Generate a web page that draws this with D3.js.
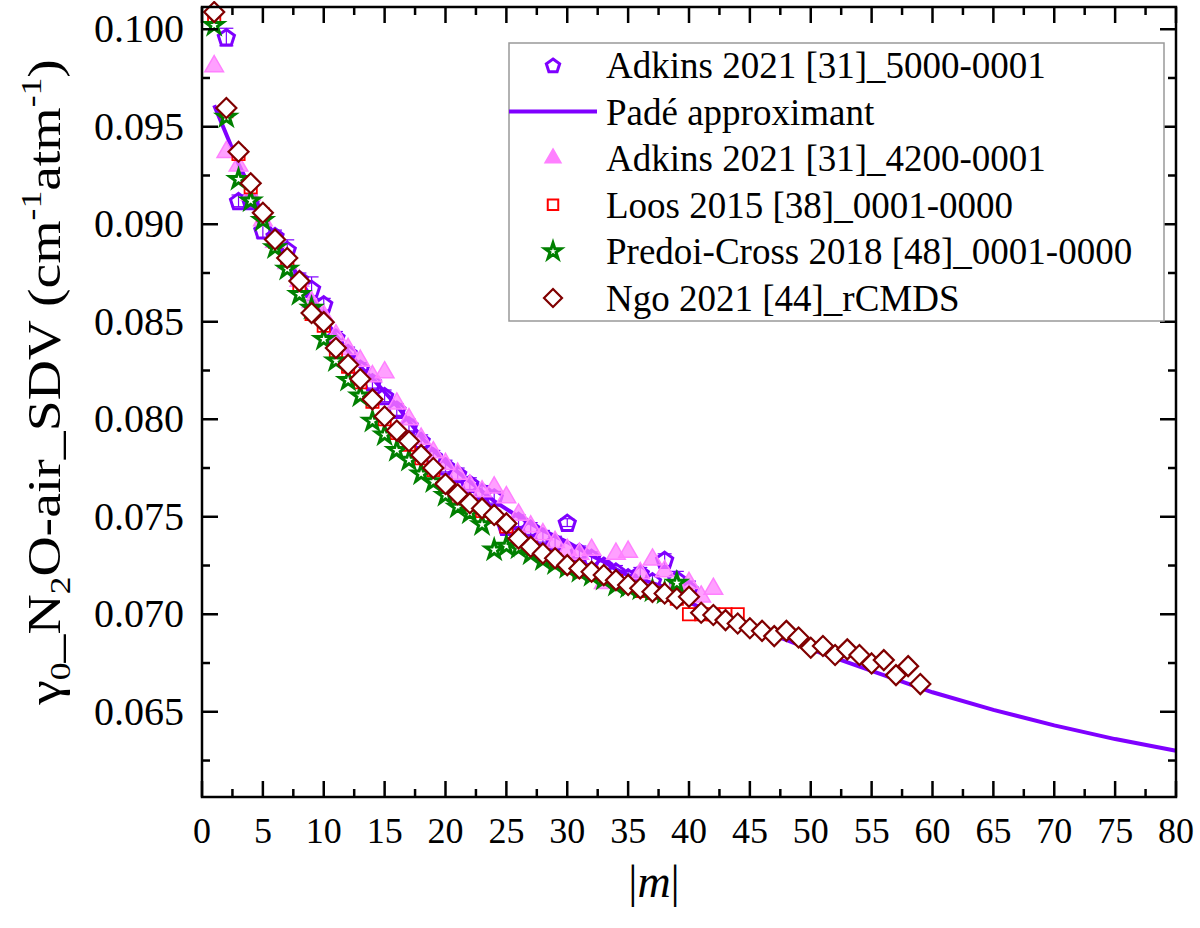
<!DOCTYPE html>
<html><head><meta charset="utf-8">
<script src="https://cdn.jsdelivr.net/npm/d3@7"></script>
<style>body{margin:0;background:#fff} text{font-family:"Liberation Serif","Times New Roman",serif;fill:#000}</style>
</head><body>
<svg id="c" width="1200" height="928"></svg>
<script>
// ---- data ----
const xTicks = [0,5,10,15,20,25,30,35,40,45,50,55,60,65,70,75,80];
const yTicks = [0.065,0.070,0.075,0.080,0.085,0.090,0.095,0.100];

const adk5000M = [2,3,4,5,6,7,8,9,10,11,12,13,14,15,16,17,18,19,20,21,22,23,24,25,26,27,28,29,30,31,32,33,34,35,36,37,38,39,40];
const adk5000V = [0.0996,0.0912,0.0912,0.0897,0.0894,0.0887,0.0872,0.0867,0.0859,0.0842,0.0834,0.0826,0.0819,0.0812,0.0805,0.0797,0.0789,0.0781,0.0776,0.0772,0.0767,0.0763,0.0760,0.0745,0.0748,0.0744,0.0740,0.0737,0.0747,0.0732,0.0729,0.0725,0.0722,0.0719,0.0721,0.0717,0.0728,0.0718,0.0713];
const adk5000E = [0.00045,0.0003,0.0003,0.0004,0.0003,0.0005,0.0003,0.0006,0.0003,0.0003,0.0003,0.0003,0.0003,0.0003,0.0003,0.0003,0.0003,0.0003,0.0003,0.0003,0.0003,0.0003,0.0003,0.0003,0.0003,0.0003,0.0003,0.0003,0.0002,0.0003,0.0003,0.0003,0.0003,0.0003,0.0003,0.0003,0.0003,0.0004,0.0004];

const padeM = [1,2,3,4,5,6,7,8,9,10,11,12,13,14,15,16,17,18,19,20,22,24,26,28,30,32,33,34,35,36,38,40,42,45,50,55,60,65,70,75,80];
const padeV = [0.0961,0.0946,0.0931,0.0918,0.0905,0.0893,0.0883,0.0872,0.0862,0.0852,0.0843,0.0835,0.0827,0.0821,0.0814,0.0807,0.0799,0.0791,0.0784,0.0778,0.0768,0.0758,0.0750,0.0743,0.0737,0.0730,0.0727,0.0723,0.0720,0.0718,0.0714,0.0706,0.0701,0.0694,0.0682,0.0671,0.0660,0.0651,0.0643,0.0636,0.0630];

const adk4200M = [1,2,3,4,5,6,7,8,9,10,11,12,13,14,15,16,17,18,19,20,21,22,23,24,25,26,27,28,29,30,31,32,33,34,35,36,37,38,39,40,41,42];
const adk4200V = [0.0981,0.0937,0.0930,0.0915,0.0902,0.0891,0.0880,0.0871,0.0860,0.0853,0.0843,0.0836,0.0830,0.0822,0.0824,0.0808,0.0800,0.0790,0.0783,0.0777,0.0772,0.0766,0.0763,0.0765,0.0760,0.0751,0.0745,0.0741,0.0737,0.0733,0.0731,0.0733,0.0716,0.0731,0.0732,0.0721,0.0728,0.0722,0.0715,0.0716,0.0709,0.0713];

const loosM = [1,2,3,4,5,6,7,8,9,10,11,12,13,14,15,16,17,18,19,20,21,22,23,24,25,26,27,28,29,30,31,32,33,34,35,36,37,38,39,40,41,42,43,44];
const loosV = [0.1006,0.0958,0.0936,0.0919,0.0905,0.0891,0.0881,0.0869,0.0854,0.0848,0.0835,0.0827,0.0819,0.0809,0.0800,0.0793,0.0787,0.0780,0.0774,0.0766,0.0760,0.0756,0.0753,0.0750,0.0745,0.0738,0.0734,0.0730,0.0728,0.0724,0.0722,0.0721,0.0719,0.0717,0.0714,0.0712,0.0711,0.0710,0.0708,0.0700,0.0700,0.0700,0.0700,0.0700];

const predM = [1,2,3,4,5,6,7,8,9,10,11,12,13,14,15,16,17,18,19,20,21,22,23,24,25,26,27,28,29,30,31,32,33,34,35,36,37,38,39];
const predV = [0.1002,0.0955,0.0923,0.0912,0.0902,0.0888,0.0877,0.0864,0.0857,0.0841,0.0830,0.0820,0.0812,0.0799,0.0792,0.0784,0.0779,0.0772,0.0768,0.0761,0.0755,0.0752,0.0746,0.0733,0.0735,0.0734,0.0731,0.0728,0.0726,0.0724,0.0722,0.0720,0.0718,0.0715,0.0714,0.0713,0.0712,0.0711,0.0716];

const ngoM = [1,2,3,4,5,6,7,8,9,10,11,12,13,14,15,16,17,18,19,20,21,22,23,24,25,26,27,28,29,30,31,32,33,34,35,36,37,38,39,40,41,42,43,44,45,46,47,48,49,50,51,52,53,54,55,56,57,58,59];
const ngoV = [0.10088,0.09596,0.09372,0.09210,0.09059,0.08922,0.08827,0.08709,0.08545,0.08498,0.08365,0.08280,0.08206,0.08102,0.08014,0.07942,0.07887,0.07816,0.07750,0.07668,0.07615,0.07569,0.07543,0.07509,0.07466,0.07389,0.07346,0.07312,0.07287,0.07252,0.07235,0.07218,0.07201,0.07175,0.07150,0.07133,0.07115,0.07107,0.07081,0.07090,0.07008,0.06996,0.06970,0.06953,0.06928,0.06915,0.06888,0.06915,0.06881,0.06828,0.06837,0.06791,0.06820,0.06791,0.06748,0.06765,0.06688,0.06734,0.06642];

const legendLabels = ["Adkins 2021 [31]_5000-0001","Padé approximant","Adkins 2021 [31]_4200-0001","Loos 2015 [38]_0001-0000","Predoi-Cross 2018 [48]_0001-0000","Ngo 2021 [44]_rCMDS"];

// ---- layout ----
const L = 202, R = 1176, T = 7, B = 797;
const svg = d3.select("#c");
const x = d3.scaleLinear().domain([0,80]).range([L,R]);
const y = d3.scaleLinear().domain([0.06063,0.10114]).range([B,T]);

const C_PURPLE = "#7f00ff", C_PINK = "#ff80ff", C_RED = "#ff0000", C_GREEN = "#008000", C_MAROON = "#800000";

svg.append("defs").append("clipPath").attr("id","clip").append("rect")
  .attr("x",L).attr("y",T-6).attr("width",R-L+4).attr("height",B-T+6);
const plot = svg.append("g").attr("clip-path","url(#clip)");

function pentagon(r){ let p=[]; for(let i=0;i<5;i++){const a=-Math.PI/2+i*2*Math.PI/5; p.push([r*Math.cos(a), r*Math.sin(a)]);} return "M"+p.map(d=>d.join(",")).join("L")+"Z"; }
function diamond(r){ return `M0,${-r}L${r},0L0,${r}L${-r},0Z`; }
const triPath = d3.symbol().type(d3.symbolTriangle).size(150)();
const sqPath = d3.symbol().type(d3.symbolSquare).size(150)();
const starPath = d3.symbol().type(d3.symbolStar).size(95)();

// Adkins 5000 (pentagon) with error bars
const g5 = plot.append("g");
adk5000M.forEach((m,i)=>{
  const cx=x(m), v=adk5000V[i], e=adk5000E[i];
  g5.append("line").attr("x1",cx).attr("x2",cx).attr("y1",y(v-e)).attr("y2",y(v+e)).attr("stroke",C_PURPLE).attr("stroke-width",1.2);
  [v-e,v+e].forEach(t=>g5.append("line").attr("x1",cx-7).attr("x2",cx+7).attr("y1",y(t)).attr("y2",y(t)).attr("stroke",C_PURPLE).attr("stroke-width",1.2));
  g5.append("path").attr("d",pentagon(8.5)).attr("transform",`translate(${cx},${y(v)+1})`)
    .attr("fill","none").attr("stroke",C_PURPLE).attr("stroke-width",3);
});

// Padé line
plot.append("path").datum(padeM.map((m,i)=>[m,padeV[i]]))
  .attr("d",d3.line().x(d=>x(d[0])).y(d=>y(d[1])))
  .attr("fill","none").attr("stroke",C_PURPLE).attr("stroke-width",4);

// Adkins 4200 (triangle)
plot.append("g").selectAll("path").data(adk4200M).join("path")
  .attr("d",triPath).attr("transform",(m,i)=>`translate(${x(m)},${y(adk4200V[i])})`)
  .attr("fill",C_PINK).attr("fill-opacity",0.75).attr("stroke",C_PINK).attr("stroke-width",1.5);

// Loos (square)
plot.append("g").selectAll("path").data(loosM).join("path")
  .attr("d",sqPath).attr("transform",(m,i)=>`translate(${x(m)},${y(loosV[i])})`)
  .attr("fill","#fff").attr("stroke",C_RED).attr("stroke-width",1.8);

// Predoi-Cross (star)
plot.append("g").selectAll("path").data(predM).join("path")
  .attr("d",starPath).attr("transform",(m,i)=>`translate(${x(m)},${y(predV[i])})`)
  .attr("fill","#fff").attr("stroke",C_GREEN).attr("stroke-width",3);

// Ngo (diamond)
plot.append("g").selectAll("path").data(ngoM).join("path")
  .attr("d",diamond(10)).attr("transform",(m,i)=>`translate(${x(m)},${y(ngoV[i])})`)
  .attr("fill","#fff").attr("stroke",C_MAROON).attr("stroke-width",2.2);

// ---- frame & ticks ----
const ax = svg.append("g");
ax.append("rect").attr("x",L).attr("y",T).attr("width",R-L).attr("height",B-T)
  .attr("fill","none").attr("stroke","#000").attr("stroke-width",2.5);
d3.range(0,80.01,2.5).forEach(v=>{
  const len = xTicks.includes(v)?16:8;
  ax.append("line").attr("x1",x(v)).attr("x2",x(v)).attr("y1",B).attr("y2",B-len).attr("stroke","#000").attr("stroke-width",2.5);
  ax.append("line").attr("x1",x(v)).attr("x2",x(v)).attr("y1",T).attr("y2",T+len).attr("stroke","#000").attr("stroke-width",2.5);
});
d3.range(0.0625,0.1011,0.0025).forEach(v=>{
  const len = yTicks.some(t=>Math.abs(t-v)<1e-6)?16:8;
  ax.append("line").attr("x1",L).attr("x2",L+len).attr("y1",y(v)).attr("y2",y(v)).attr("stroke","#000").attr("stroke-width",2.5);
  ax.append("line").attr("x1",R).attr("x2",R-len).attr("y1",y(v)).attr("y2",y(v)).attr("stroke","#000").attr("stroke-width",2.5);
});
ax.selectAll("text.xt").data(xTicks).join("text").attr("class","xt")
  .attr("x",d=>x(d)).attr("y",843).attr("text-anchor","middle").attr("font-size",36).text(d=>d);
ax.selectAll("text.yt").data(yTicks).join("text").attr("class","yt")
  .attr("x",184).attr("y",d=>y(d)+13).attr("text-anchor","end").attr("font-size",40).text(d=>d.toFixed(3));

// axis titles
const xt = svg.append("text").attr("x",654).attr("y",897).attr("text-anchor","middle").attr("font-size",46);
xt.append("tspan").text("|");
xt.append("tspan").attr("font-style","italic").text("m");
xt.append("tspan").text("|");

const yt = svg.append("text").attr("text-anchor","middle").attr("font-size",47);
yt.append("tspan").text("γ");
yt.append("tspan").attr("font-size",30).attr("dy",10).text("0");
yt.append("tspan").attr("dy",-10).text("_N");
yt.append("tspan").attr("font-size",30).attr("dy",10).text("2");
yt.append("tspan").attr("dy",-10).text("O-air_SDV (cm");
yt.append("tspan").attr("font-size",30).attr("dy",-19).text("-1");
yt.append("tspan").attr("dy",19).text("atm");
yt.append("tspan").attr("font-size",30).attr("dy",-19).text("-1");
yt.append("tspan").attr("dy",19).text(")");
const ytw = yt.node().getBBox().width;
yt.attr("transform",`translate(60,382) rotate(-90) scale(${647/ytw},1)`);

// ---- legend ----
const lg = svg.append("g");
lg.append("rect").attr("x",509).attr("y",43).attr("width",655).attr("height",278)
  .attr("fill","#fff").attr("stroke","#999").attr("stroke-width",1.5);
legendLabels.forEach((lab,i)=>{
  const cy = 65 + i*46.6, sx = 553;
  if(i===0) lg.append("path").attr("d",pentagon(7)).attr("transform",`translate(${sx},${cy+1})`).attr("fill","none").attr("stroke",C_PURPLE).attr("stroke-width",3);
  if(i===1) lg.append("line").attr("x1",509).attr("x2",597).attr("y1",cy).attr("y2",cy).attr("stroke",C_PURPLE).attr("stroke-width",4);
  if(i===2) lg.append("path").attr("d",d3.symbol().type(d3.symbolTriangle).size(110)()).attr("transform",`translate(${sx},${cy})`).attr("fill",C_PINK).attr("stroke",C_PINK).attr("stroke-width",1.5);
  if(i===3) lg.append("path").attr("d",d3.symbol().type(d3.symbolSquare).size(110)()).attr("transform",`translate(${sx},${cy})`).attr("fill","#fff").attr("stroke",C_RED).attr("stroke-width",2);
  if(i===4) lg.append("path").attr("d",d3.symbol().type(d3.symbolStar).size(80)()).attr("transform",`translate(${sx},${cy})`).attr("fill","#fff").attr("stroke",C_GREEN).attr("stroke-width",3);
  if(i===5) lg.append("path").attr("d",diamond(9)).attr("transform",`translate(${sx},${cy})`).attr("fill","#fff").attr("stroke",C_MAROON).attr("stroke-width",2.2);
  lg.append("text").attr("x",606).attr("y",cy+13).attr("font-size",37).text(lab);
});
</script>
</body></html>
